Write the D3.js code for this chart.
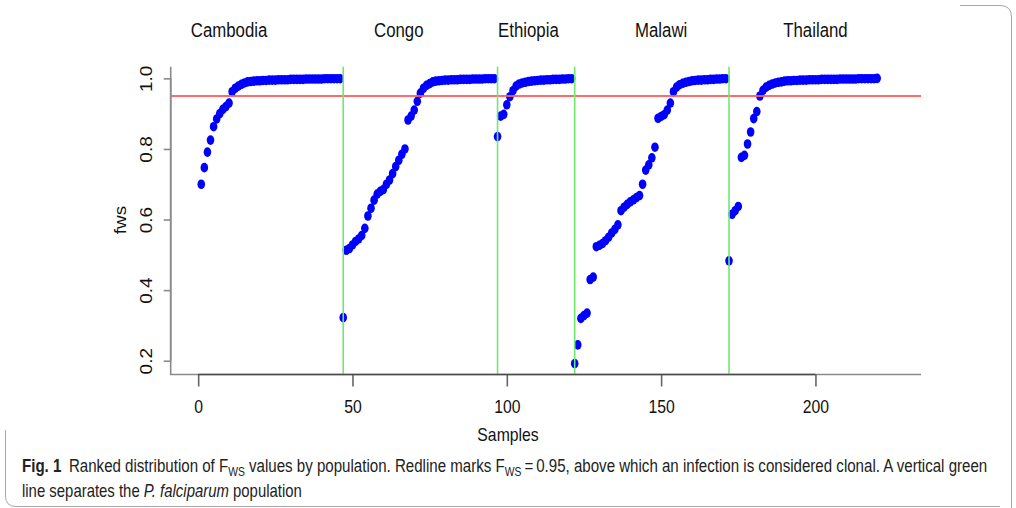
<!DOCTYPE html>
<html>
<head>
<meta charset="utf-8">
<script src="https://cdn.jsdelivr.net/npm/d3@7"></script>
<style>
  html, body { margin: 0; padding: 0; background: #fff; }
  svg { display: block; }
</style>
</head>
<body>
<svg id="chart" width="1016" height="508"></svg>
<script>
// Ranked Fws values per population (sorted ascending within each population)
const populations = ["Cambodia", "Congo", "Ethiopia", "Malawi", "Thailand"];

const cambodia = [0.700, 0.747, 0.791, 0.825, 0.863, 0.885, 0.900, 0.912, 0.920, 0.930,
  0.962, 0.972, 0.978, 0.983, 0.987, 0.990, 0.991, 0.992, 0.993, 0.993,
  0.994, 0.994, 0.995, 0.995, 0.995, 0.996, 0.996, 0.996, 0.996, 0.997,
  0.997, 0.997, 0.997, 0.997, 0.998, 0.998, 0.998, 0.998, 0.998, 0.998,
  0.999, 0.999, 0.999, 0.999, 0.999, 0.999];

const congo = [0.322, 0.513, 0.518, 0.528, 0.538, 0.545, 0.555, 0.575, 0.610, 0.632,
  0.655, 0.672, 0.680, 0.685, 0.700, 0.712, 0.730, 0.750, 0.768, 0.785,
  0.800, 0.882, 0.893, 0.910, 0.935, 0.958, 0.972, 0.980, 0.985, 0.990,
  0.992, 0.993, 0.994, 0.995, 0.995, 0.996, 0.996, 0.996, 0.997, 0.997,
  0.997, 0.997, 0.998, 0.998, 0.998, 0.998, 0.999, 0.999, 0.999, 0.999];

const ethiopia = [0.835, 0.893, 0.898, 0.925, 0.948, 0.965, 0.978, 0.984, 0.987, 0.989,
  0.991, 0.992, 0.993, 0.994, 0.995, 0.995, 0.996, 0.996, 0.997, 0.997,
  0.997, 0.998, 0.998, 0.999, 0.999];

const malawi = [0.192, 0.245, 0.320, 0.328, 0.335, 0.430, 0.437, 0.523, 0.527, 0.532,
  0.540, 0.550, 0.562, 0.572, 0.585, 0.625, 0.635, 0.643, 0.650, 0.656,
  0.662, 0.668, 0.700, 0.740, 0.755, 0.775, 0.805, 0.887, 0.892, 0.897,
  0.910, 0.930, 0.962, 0.975, 0.982, 0.986, 0.989, 0.991, 0.993, 0.994,
  0.995, 0.995, 0.996, 0.996, 0.997, 0.997, 0.998, 0.998, 0.999, 0.999];

const thailand = [0.483, 0.615, 0.625, 0.637, 0.776, 0.782, 0.814, 0.848, 0.886, 0.906,
  0.950, 0.966, 0.975, 0.980, 0.984, 0.987, 0.989, 0.990, 0.992, 0.993,
  0.993, 0.994, 0.994, 0.995, 0.995, 0.995, 0.996, 0.996, 0.996, 0.996,
  0.997, 0.997, 0.997, 0.997, 0.997, 0.997, 0.998, 0.998, 0.998, 0.998,
  0.998, 0.998, 0.999, 0.999, 0.999, 0.999, 0.999, 0.999, 1.000];

const seriesValues = [cambodia, congo, ethiopia, malawi, thailand];
const clonalThreshold = 0.95;
const xTickValues = [0, 50, 100, 150, 200];
const yTickValues = [0.2, 0.4, 0.6, 0.8, 1.0];
// sample index above which each population name is written
const nameAnchors = [10, 65, 107, 150, 200];

// ---- layout ----
const svg = d3.select("#chart");
const plot = { left: 170.7, right: 921, top: 66.7, bottom: 374.5 };
const squeeze = 0.83; // horizontal squeeze applied to the R-style text

const x = d3.scaleLinear().domain([-8.9, 234.2]).range([plot.left, plot.right]);
const y = d3.scaleLinear().domain([0.161, 1.033]).range([plot.bottom, plot.top]);

// flatten to (sample index, value) in rank order
const samples = [];
let idx = 1;
const boundaries = [];
seriesValues.forEach((vals, p) => {
  if (p > 0) boundaries.push(idx);
  vals.forEach(v => { samples.push({ i: idx, v, pop: populations[p] }); idx += 1; });
});

const axisColor = "#4a4a4a";
const boxColor = "#8a8a8a";
const rFont = "'Liberation Sans', Arial, Helvetica, sans-serif";

// figure panel outline (rounded frame, partly outside the visible area)
svg.append("path")
  .attr("d", "M5.5,430 V496 Q5.5,506.5 16,506.5 H1000")
  .attr("fill", "none").attr("stroke", "#a8a8a8").attr("stroke-width", 1);
svg.append("path")
  .attr("d", "M960,5.5 H1000 Q1011.5,5.5 1011.5,17 V508")
  .attr("fill", "none").attr("stroke", "#a8a8a8").attr("stroke-width", 1);

// plot frame (left and bottom)
svg.append("path")
  .attr("d", `M${plot.left},${plot.top}V${plot.bottom}H${plot.right}`)
  .attr("fill", "none").attr("stroke", boxColor).attr("stroke-width", 1.6);

// points
svg.append("g").selectAll("ellipse").data(samples).join("ellipse")
  .attr("cx", d => x(d.i))
  .attr("cy", d => y(d.v))
  .attr("rx", 3.8).attr("ry", 4.8)
  .attr("fill", "#0000ff");

// clonal threshold
svg.append("line")
  .attr("x1", plot.left).attr("x2", plot.right)
  .attr("y1", y(clonalThreshold)).attr("y2", y(clonalThreshold))
  .attr("stroke", "#ff5a5a").attr("stroke-width", 1.8).attr("stroke-opacity", 0.9);

// population separators
svg.append("g").selectAll("line").data(boundaries).join("line")
  .attr("x1", d => x(d)).attr("x2", d => x(d))
  .attr("y1", plot.top).attr("y2", plot.bottom)
  .attr("stroke", "#6fe86f").attr("stroke-width", 1.6);

// y axis
const yAxis = svg.append("g")
  .attr("transform", `translate(${plot.left},0)`)
  .call(d3.axisLeft(y).tickValues(yTickValues).tickFormat(d3.format(".1f"))
    .tickSize(7).tickSizeOuter(0));
yAxis.select(".domain").remove();
yAxis.append("line")
  .attr("y1", y(yTickValues[0])).attr("y2", y(yTickValues[yTickValues.length - 1]))
  .attr("stroke", boxColor).attr("stroke-width", 1.6);
yAxis.selectAll(".tick line").attr("stroke", boxColor).attr("stroke-width", 1.6);
yAxis.selectAll(".tick text")
  .attr("x", null).attr("dy", "0.36em")
  .attr("text-anchor", "middle")
  .attr("transform", `translate(-24,0) scale(${squeeze},1) rotate(-90)`)
  .attr("fill", "#111").style("font", `19px ${rFont}`);

// x axis
const xAxis = svg.append("g")
  .attr("transform", `translate(0,${plot.bottom})`)
  .call(d3.axisBottom(x).tickValues(xTickValues).tickFormat(d3.format("d"))
    .tickSize(12).tickPadding(13).tickSizeOuter(0));
xAxis.select(".domain").remove();
xAxis.append("line")
  .attr("x1", x(xTickValues[0])).attr("x2", x(xTickValues[xTickValues.length - 1]))
  .attr("stroke", axisColor).attr("stroke-width", 1.6);
xAxis.selectAll(".tick line").attr("stroke", "#666").attr("stroke-width", 1.6);
xAxis.selectAll(".tick text")
  .attr("transform", `scale(${squeeze},1)`)
  .attr("fill", "#111").style("font", `19px ${rFont}`);

// axis titles
svg.append("text")
  .attr("transform", `translate(508,441) scale(${squeeze},1)`)
  .attr("text-anchor", "middle").attr("fill", "#111")
  .style("font", `19px ${rFont}`).text("Samples");
svg.append("text")
  .attr("transform", `translate(126,220) scale(${squeeze},1) rotate(-90)`)
  .attr("text-anchor", "middle").attr("fill", "#111")
  .style("font", `19px ${rFont}`).text("fws");

// population names
svg.append("g").selectAll("text").data(populations).join("text")
  .attr("transform", (d, k) => `translate(${x(nameAnchors[k])},37) scale(0.8,1)`)
  .attr("text-anchor", "middle").attr("fill", "#111")
  .style("font", `21px ${rFont}`)
  .text(d => d);

// caption
const capFont = "'Liberation Sans', Arial, sans-serif";
function captionLine(yPos, targetWidth, build) {
  const g = svg.append("g");
  const t = g.append("text").attr("x", 0).attr("y", 0)
    .attr("fill", "#222").style("font", `17.5px ${capFont}`);
  build(t);
  const w = t.node().getComputedTextLength();
  g.attr("transform", `translate(22,${yPos}) scale(${targetWidth / w},1)`);
}
captionLine(472, 966, t => {
  t.append("tspan").attr("font-weight", "bold").text("Fig. 1");
  t.append("tspan").text("\u2002Ranked distribution of F");
  t.append("tspan").attr("dy", 4).style("font-size", "12px").text("WS");
  t.append("tspan").attr("dy", -4).text(" values by population. Redline marks F");
  t.append("tspan").attr("dy", 4).style("font-size", "12px").text("WS");
  t.append("tspan").attr("dy", -4).text("\u2009=\u20090.95, above which an infection is considered clonal. A vertical green");
});
captionLine(497, 280, t => {
  t.append("tspan").text("line separates the ");
  t.append("tspan").attr("font-style", "italic").text("P. falciparum");
  t.append("tspan").text(" population");
});
</script>
</body>
</html>
